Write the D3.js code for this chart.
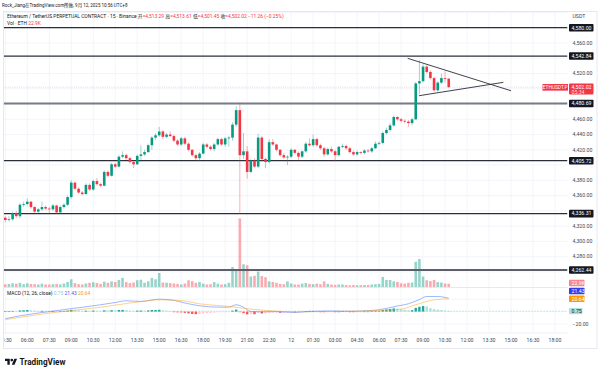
<!DOCTYPE html>
<html><head><meta charset="utf-8">
<script src="https://cdn.jsdelivr.net/npm/d3@7"></script>
<style>html,body{margin:0;padding:0;background:#fff;} svg{display:block;font-family:Roboto,"Noto Sans CJK SC",sans-serif;}</style>
</head><body><svg id="c" width="600" height="372"></svg>
<script>
// ---------------- DATA ----------------
const startTime = "2025-09-11T04:30:00Z"; // first visible 15m candle
const opens  = [4331,4328,4329,4337,4333,4348,4349,4352,4345,4339,4342,4345,4343,4342,4347,4338,4345,4348,4358,4377,4369,4364,4362,4374,4368,4379,4375,4373,4391,4386,4401,4398,4411,4413,4409,4404,4401,4412,4414,4417,4426,4436,4439,4444,4437,4440,4438,4432,4427,4435,4428,4420,4413,4409,4415,4427,4424,4421,4427,4434,4427,4435,4436,4453,4472,4413,4418,4391,4406,4398,4436,4408,4404,4430,4427,4420,4413,4410,4411,4420,4416,4411,4418,4428,4426,4434,4426,4422,4414,4421,4418,4413,4424,4425,4422,4417,4414,4417,4416,4419,4418,4422,4428,4429,4442,4446,4452,4463,4460,4458,4457,4455,4460,4507,4510,4529,4522,4514,4498,4508,4514,4513.29];
const highs  = [4333,4333,4339,4340,4350,4352,4356,4353,4346,4344,4352,4347,4345,4349,4348,4347,4350,4360,4380,4378,4371,4366,4376,4376,4381,4383,4377,4393,4393,4403,4403,4413,4418,4415,4411,4406,4414,4426,4420,4428,4438,4442,4450,4446,4442,4444,4440,4434,4437,4437,4430,4421,4415,4417,4429,4429,4426,4429,4436,4436,4437,4438,4456,4477,4482,4442,4425,4408,4409,4441,4438,4410,4434,4434,4428,4421,4416,4413,4422,4421,4418,4419,4430,4435,4440,4436,4428,4424,4423,4424,4420,4425,4428,4427,4424,4419,4419,4418,4421,4421,4424,4431,4431,4444,4449,4455,4465,4464,4462,4460,4459,4462,4509,4538,4532,4531,4524,4516,4510,4520,4523,4513.61];
const lows   = [4325,4326,4327,4331,4330,4345,4347,4343,4337,4337,4340,4341,4337,4340,4336,4336,4343,4346,4356,4367,4362,4360,4361,4366,4366,4373,4371,4372,4384,4385,4396,4397,4409,4407,4402,4396,4400,4404,4412,4416,4420,4433,4437,4434,4435,4437,4430,4425,4425,4426,4418,4411,4406,4405,4414,4422,4419,4418,4425,4425,4424,4424,4432,4450,4336,4408,4382,4389,4396,4396,4405,4396,4402,4425,4418,4411,4408,4400,4409,4414,4406,4409,4416,4424,4424,4424,4420,4411,4412,4416,4405,4411,4422,4420,4415,4412,4412,4414,4414,4416,4416,4421,4426,4427,4440,4444,4450,4458,4456,4455,4450,4452,4459,4493,4508,4520,4512,4496,4496,4506,4508,4501.45];
const closes = [4328,4329,4337,4333,4348,4349,4352,4345,4339,4342,4345,4343,4342,4347,4338,4345,4348,4358,4377,4369,4364,4362,4374,4368,4379,4375,4373,4391,4386,4401,4398,4411,4413,4409,4404,4401,4412,4414,4417,4426,4436,4439,4444,4437,4440,4438,4432,4427,4435,4428,4420,4413,4409,4415,4427,4424,4421,4427,4434,4427,4435,4436,4453,4472,4413,4418,4391,4406,4398,4436,4408,4404,4430,4427,4420,4413,4410,4411,4420,4416,4411,4418,4428,4426,4434,4426,4422,4414,4421,4418,4413,4424,4425,4422,4417,4414,4417,4416,4419,4418,4422,4428,4429,4442,4446,4452,4463,4460,4458,4457,4455,4460,4507,4510,4529,4522,4514,4498,4508,4514,4513.29,4502.02];
const volumes = [19,22,27,24,30,20,26,22,20,18,24,18,17,20,22,18,25,35,55,28,20,18,25,30,34,28,22,38,30,40,36,50,65,35,28,32,48,52,30,40,65,55,100,32,30,28,25,22,18,25,48,42,30,36,24,18,20,35,24,18,20,30,143,114,490,162,155,75,80,110,78,70,40,36,30,22,20,40,25,18,17,24,28,22,20,24,20,40,22,18,15,18,18,14,12,14,12,13,14,15,18,20,22,72,50,50,40,36,26,24,30,32,180,200,75,48,42,50,35,32,25,22.9]; // K ETH
const macdIdx = [0,4,12,17,21,26,30,33,37,42,45,50,53,58,61,63,65,67,70,74,79,83,89,94,99,102,107,110,113,115,118,121];
const macdVal = [-11.5,-6.8,0,4,7,11,14.7,17.4,16.3,20,19,12.6,9.4,7.2,7.2,11,7,0,-0.3,0,-1.5,0.5,1,0.5,1.5,3,9,12.6,19.5,24.4,24.4,21.43];
const sigIdx  = [0,12,26,35,42,48,53,61,67,71,79,86,94,102,108,112,117,121];
const sigVal  = [-13,-2.4,7,14.7,19,17.8,12.6,8.4,4.1,2,-0.3,0,0.5,2,4,11,19,20.64];
const hist = [0.6,0.8,1.0,0.9,1.8,2.2,2.5,2.0,1.4,1.0,1.2,0.9,0.7,0.9,0.5,0.6,0.8,1.5,2.8,2.5,1.8,1.2,1.4,1.2,1.6,1.4,1.1,2.0,1.8,2.3,2.0,2.6,2.7,2.2,1.6,1.1,1.5,1.6,1.4,1.9,2.6,2.6,2.9,2.0,1.5,0.9,-0.2,-1.2,-1.3,-2.0,-3.0,-3.8,-4.2,-3.8,-2.8,-2.4,-2.2,-1.6,-1.0,-1.0,-0.5,-0.3,1.5,3.2,-0.5,-2.5,-4.5,-4.2,-4.3,-2.5,-3.0,-3.0,-2.0,-1.6,-1.6,-1.8,-1.7,-1.4,-0.9,-1.0,-0.9,-0.4,0.2,0.2,0.5,0.2,-0.1,-0.5,-0.3,-0.3,-0.5,0.0,0.3,0.2,-0.1,-0.3,-0.2,-0.1,0.1,0.1,0.3,0.8,1.0,2.5,3.4,4.2,5.2,4.6,3.8,3.0,2.2,2.3,6.0,7.8,9.0,8.4,5.5,4.0,3.2,2.5,1.6,0.75];
const levels = [4580.00, 4542.84, 4480.69, 4405.72, 4336.31, 4262.44]; // drawn horizontal lines
const trendLines = [ // [candle index, price] pairs
  [[109.8, 4539.9], [138.0, 4497.4]],
  [[112.9, 4490.9], [135.9, 4508.4]]
];
const timeLabels = ["04:30","06:00","07:30","09:00","10:30","12:00","13:30","15:00","16:30","18:00","19:30","21:00","22:30","12","01:30","03:00","04:30","06:00","07:30","09:00","10:30","12:00","13:30","15:00","16:30","18:00"];
const priceTicks = d3.range(4260, 4601, 20);
const macdTicks = [-20];
const lastPrice = 4502.02, countdown = "05:34", lastVolLabel = "22.9K";
const headerText = "Rock_Jiang在TradingView.com所做, 9月 12, 2025 10:56 UTC+8";
const symbolText = "Ethereum / TetherUS PERPETUAL CONTRACT · 15 · Binance";
const ohlcLabels = ["开","高","低","收"];
const changeText = "−11.26 (−0.25%)";

// ---------------- STYLE / LAYOUT ----------------
const UP="#089981", DN="#F23645";
const plotL=3.5, plotR=567.5, topY=11.5, mainBot=287, macdBot=333, axisBot=348.5;
const levelWidths=[1.3,1.3,2.2,1.3,1.3,2];
const levelColors=["#2a2e39","#2a2e39","#787b86","#2a2e39","#2a2e39","#5d606b"];
const fs=5.2;

const svg=d3.select("#c");
const step=15*60*1000, t0=new Date(startTime);
const tAt=i=>new Date(+t0+i*step);
const x=d3.scaleUtc().domain([t0,tAt(150)]).range([5.3,555]);
const y=d3.scaleLinear().domain([4240.2,4600.6]).range([287,12]);
const yv=d3.scaleLinear().domain([0,500]).range([287,217]);
const ym=d3.scaleLinear().domain([-20,20]).range([324,299.2]);

svg.append("rect").attr("width",600).attr("height",372).attr("fill","#fff");
const defs=svg.append("defs");
defs.append("clipPath").attr("id","plot").append("rect").attr("x",plotL).attr("y",topY).attr("width",plotR-plotL).attr("height",macdBot-topY);
defs.append("clipPath").attr("id","xax").append("rect").attr("x",4.2).attr("y",macdBot).attr("width",plotR-4.2).attr("height",axisBot-macdBot);

const g=svg.append("g").attr("clip-path","url(#plot)");
// grid
g.selectAll(".vg").data(timeLabels).join("line").attr("x1",(d,i)=>x(tAt(i*6))).attr("x2",(d,i)=>x(tAt(i*6)))
 .attr("y1",topY).attr("y2",macdBot).attr("stroke","#f0f3fa").attr("stroke-width",0.8);
g.selectAll(".hg").data(priceTicks).join("line").attr("x1",plotL).attr("x2",plotR).attr("y1",d=>y(d)).attr("y2",d=>y(d))
 .attr("stroke","#f0f3fa").attr("stroke-width",0.8);
g.selectAll(".mg").data([-20,0,20]).join("line").attr("x1",plotL).attr("x2",plotR).attr("y1",d=>ym(d)).attr("y2",d=>ym(d))
 .attr("stroke","#f0f3fa").attr("stroke-width",0.8);

// volume
const idx=d3.range(closes.length);
const bw=2.6;
g.selectAll(".vol").data(idx).join("rect")
 .attr("x",i=>x(tAt(i))-bw/2).attr("width",bw)
 .attr("y",i=>yv(volumes[i])).attr("height",i=>yv(0)-yv(volumes[i]))
 .attr("fill",i=>closes[i]>=opens[i]?UP:DN).attr("opacity",0.42);

// current price line
g.append("line").attr("x1",plotL).attr("x2",plotR).attr("y1",y(lastPrice)).attr("y2",y(lastPrice))
 .attr("stroke",DN).attr("stroke-opacity",0.3).attr("stroke-width",0.8).attr("stroke-dasharray","1,1.2");

// levels
g.selectAll(".lvl").data(levels).join("line").attr("x1",plotL).attr("x2",plotR).attr("y1",d=>y(d)).attr("y2",d=>y(d))
 .attr("stroke",(d,i)=>levelColors[i]).attr("stroke-width",(d,i)=>levelWidths[i]);

// candles
g.selectAll(".wick").data(idx).join("line")
 .attr("x1",i=>x(tAt(i))).attr("x2",i=>x(tAt(i))).attr("y1",i=>y(highs[i])).attr("y2",i=>y(lows[i]))
 .attr("stroke",i=>closes[i]>=opens[i]?UP:DN).attr("stroke-width",0.8).attr("stroke-opacity",0.5);
g.selectAll(".body").data(idx).join("rect")
 .attr("x",i=>x(tAt(i))-bw/2).attr("width",bw)
 .attr("y",i=>y(Math.max(opens[i],closes[i]))).attr("height",i=>Math.max(0.8,Math.abs(y(opens[i])-y(closes[i]))))
 .attr("fill",i=>closes[i]>=opens[i]?UP:DN);

// trend lines (triangle)
g.selectAll(".tl").data(trendLines).join("line")
 .attr("x1",d=>x(tAt(d[0][0]))).attr("y1",d=>y(d[0][1])).attr("x2",d=>x(tAt(d[1][0]))).attr("y2",d=>y(d[1][1]))
 .attr("stroke","#2a2e39").attr("stroke-width",0.9);

// pane separator
svg.append("line").attr("x1",plotL).attr("x2",plotR).attr("y1",mainBot+0.5).attr("y2",mainBot+0.5).attr("stroke","#e0e3eb").attr("stroke-width",0.8);

// MACD pane
g.append("line").attr("x1",plotL).attr("x2",plotR).attr("y1",ym(hist[hist.length-1])).attr("y2",ym(hist[hist.length-1]))
 .attr("stroke","#26A69A").attr("stroke-opacity",0.45).attr("stroke-width",0.8).attr("stroke-dasharray","1.2,1.8");
g.selectAll(".hist").data(idx).join("rect")
 .attr("x",i=>x(tAt(i))-1.2).attr("width",2.4)
 .attr("y",i=>Math.min(ym(0),ym(hist[i]))).attr("height",i=>Math.max(0.6,Math.abs(ym(hist[i])-ym(0))))
 .attr("fill",i=>{const v=hist[i],p=i?hist[i-1]:v; return v>=0?(v>=p?"#26A69A":"#B2DFDB"):(v<p?"#FF5252":"#FFCDD2");});
const ml=d3.line().x(d=>x(tAt(d[0]))).y(d=>ym(d[1])).curve(d3.curveMonotoneX);
g.append("path").attr("d",ml(macdIdx.map((d,i)=>[d,macdVal[i]]))).attr("fill","none").attr("stroke","#2962FF").attr("stroke-opacity",0.5).attr("stroke-width",0.9);
g.append("path").attr("d",ml(sigIdx.map((d,i)=>[d,sigVal[i]]))).attr("fill","none").attr("stroke","#FF9800").attr("stroke-opacity",0.5).attr("stroke-width",0.9);

// frame
svg.append("rect").attr("x",plotL).attr("y",topY).attr("width",597-plotL).attr("height",axisBot-topY).attr("fill","none").attr("stroke","#e0e3eb").attr("stroke-width",0.8);
svg.append("line").attr("x1",plotL).attr("x2",plotR).attr("y1",macdBot).attr("y2",macdBot).attr("stroke","#e0e3eb").attr("stroke-width",0.6);

// x axis labels
svg.append("g").attr("clip-path","url(#xax)").selectAll("text").data(timeLabels).join("text")
 .attr("x",(d,i)=>x(tAt(i*6))).attr("y",342.3).attr("text-anchor","middle").attr("font-size",fs).attr("fill","#434651").text(d=>d);

// price axis labels (hide those covered by tags)
const ax=svg.append("g");
const fmt=d3.format(",.2f");
const tagYs=levels.map(l=>y(l)).concat([y(lastPrice)]);
ax.append("text").attr("x",572.5).attr("y",18).attr("font-size",fs).attr("fill","#434651").text("USDT");
ax.selectAll(".pt").data(priceTicks.filter(p=>y(p)>20 && y(p)<282 && tagYs.every(t=>Math.abs(t-y(p))>6.5))).join("text")
 .attr("x",572.5).attr("y",d=>y(d)+1.8).attr("font-size",fs).attr("fill","#434651").text(d=>fmt(d));
ax.selectAll(".mt").data(macdTicks).join("text").attr("x",572.5).attr("y",d=>ym(d)+1.8).attr("font-size",fs).attr("fill","#434651").text(d=>"−"+fmt(-d));

function tag(yc,txt,fill,color,x0=569,w=24.5,h=7.6){
  ax.append("rect").attr("x",x0).attr("y",yc-h/2).attr("width",w).attr("height",h).attr("rx",0.8).attr("fill",fill);
  ax.append("text").attr("x",x0+2.6).attr("y",yc+1.8).attr("font-size",fs).attr("fill",color).text(txt);
}
levels.forEach(l=>tag(y(l),fmt(l),"#131722","#fff"));
// current price tag with countdown
const yp=y(lastPrice);
ax.append("rect").attr("x",569).attr("y",yp-3.8).attr("width",24.5).attr("height",11).attr("rx",0.8).attr("fill",DN);
ax.append("text").attr("x",571.6).attr("y",yp+1.8).attr("font-size",fs).attr("fill","#fff").text(fmt(lastPrice));
ax.append("text").attr("x",571.6).attr("y",yp+6.6).attr("font-size",fs).attr("fill","#fff").attr("fill-opacity",0.85).text(countdown);
ax.append("rect").attr("x",542.5).attr("y",yp-3.2).attr("width",25.5).attr("height",6.6).attr("fill",DN);
ax.append("text").attr("x",555.2).attr("y",yp+1.7).attr("text-anchor","middle").attr("font-size",4.8).attr("fill","#fff").text("ETHUSDT.P");
// volume / macd tags
tag(yv(volumes[volumes.length-1])-0.8,lastVolLabel,"#f5868c","#fff",569,15.5,6.4);
const ySig=ym(sigVal[sigVal.length-1]), yMac=Math.min(ym(macdVal[macdVal.length-1]),ySig-7.8);
tag(yMac,d3.format(".2f")(macdVal[macdVal.length-1]),"#2f3cf0","#fff",569,15.5,6.4);
tag(ySig,d3.format(".2f")(sigVal[sigVal.length-1]),"#FF9800","#fff",569,15.5,6.4);
tag(ym(hist[hist.length-1]),d3.format(".2f")(hist[hist.length-1]),"#b2dfdb","#131722",569,13.5,6.4);

// header & legends
svg.append("text").attr("x",2).attr("y",7).attr("font-size",4.5).attr("fill","#131722").text(headerText);
const lg=svg.append("text").attr("x",7).attr("y",17.8).attr("font-size",4.9).attr("fill","#131722");
lg.append("tspan").text(symbolText+"  ");
const ohlc=[opens,highs,lows,closes].map(a=>a[a.length-1]);
ohlcLabels.forEach((l,i)=>{lg.append("tspan").attr("fill","#131722").text(l);lg.append("tspan").attr("fill",DN).text("="+fmt(ohlc[i])+" ");});
lg.append("tspan").attr("fill",DN).text(changeText);
const vl=svg.append("text").attr("x",7).attr("y",24.8).attr("font-size",4.9).attr("fill","#131722");
vl.append("tspan").text("Vol · ETH  ");
vl.append("tspan").attr("fill",DN).text(lastVolLabel);
const md=svg.append("text").attr("x",7).attr("y",294.5).attr("font-size",4.9).attr("fill","#131722");
md.append("tspan").text("MACD (12, 26, close)  ");
md.append("tspan").attr("fill","#26A69A").attr("fill-opacity",0.6).text(d3.format(".2f")(hist[hist.length-1])+"  ");
md.append("tspan").attr("fill","#2962FF").text(d3.format(".2f")(macdVal[macdVal.length-1])+"  ");
md.append("tspan").attr("fill","#FF9800").text(d3.format(".2f")(sigVal[sigVal.length-1]));

// logo
const lgo=svg.append("g").attr("transform","translate(5,357.3) scale(0.34)").attr("fill","#131722");
lgo.append("path").attr("d","M14 22H7V11H0V4h14v18zM28 22h-8l7.5-18h8L28 22z");
lgo.append("circle").attr("cx",20).attr("cy",8).attr("r",4);
svg.append("text").attr("x",19.5).attr("y",365.3).attr("font-size",8.2).attr("font-weight",700).attr("fill","#131722").text("TradingView");
</script></body></html>
